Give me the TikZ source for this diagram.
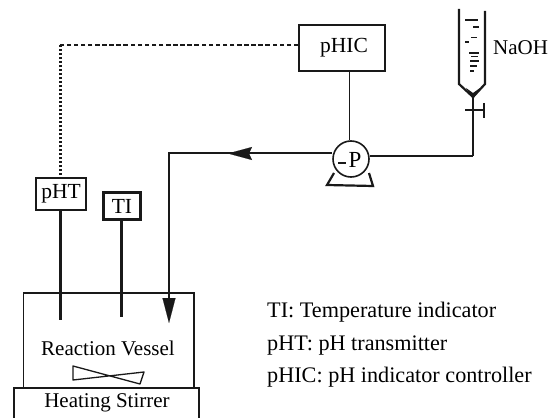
\documentclass[tikz,border=0pt]{standalone}
\usepackage{fontspec}
\setmainfont{Liberation Serif}
\usetikzlibrary{arrows.meta}
\tikzset{
  ink/.style={draw=black!90},
  boxnode/.style={ink,line width=1.4pt,inner sep=0pt,minimum width=#1,anchor=center},
  flow/.style={ink,line width=1.4pt},
  probe/.style={ink,line width=2.8pt},
  legend/.style={anchor=base west,inner sep=0pt,font=\fontsize{22.2}{24}\selectfont},
  lab/.style={inner sep=0pt,font=\fontsize{21.5}{24}\selectfont},
  midlab/.style={inner sep=0pt,font=\fontsize{21}{24}\selectfont}
}
\begin{document}
\begin{tikzpicture}[x=1pt,y=-1pt]
\useasboundingbox[fill=white] (0,0) rectangle (556,417);
% instruments
\node[boxnode=86pt,minimum height=46pt,lab] (phic) at (342,48) {\raisebox{-2pt}{\hspace*{4pt}pHIC}};
\node[boxnode=50pt,minimum height=32pt,lab] (pht) at (61,194) {pHT};
\node[boxnode=37pt,minimum height=27pt,lab,line width=3pt] (ti) at (122,206) {TI};
\node[ink,circle,line width=1.6pt,minimum size=36pt,inner sep=0pt] (pump) at (351,159) {};
\node[midlab,font=\fontsize{23}{24}\selectfont] (plab) at (355,160) {P};
\node[midlab,anchor=west] (naoh) at (493,48) {NaOH};
% vessel
\node[ink,line width=1.3pt,minimum width=170.5pt,minimum height=95pt,inner sep=0pt] (vessel) at (108.75,340.5) {};
\node[midlab] (rv) at (108,348) {Reaction Vessel};
\node[midlab] (hs) at (107,403) {Heating Stirrer};
\coordinate (hsa) at (14,420);
\coordinate (hsb) at (14,388);
\coordinate (hsc) at (199,388);
\coordinate (hsd) at (199,420);
\draw[ink,line width=1.4pt] (hsa) -- (hsb) -- (hsc) -- (hsd);
% impeller
\draw[ink,line width=1.3pt,line join=round] (73,366) -- (140,384) -- (144,372) -- (73,380) -- cycle;
% signal lines
\coordinate (corner) at (60,45);
\draw[ink,line width=1.7pt,dash pattern=on 4.5pt off 2.6pt] (phic.west |- corner) -- (corner);
\draw[ink,line width=3pt,dash pattern=on 2.4pt off 1.6pt] (corner) -- (pht.north -| corner);
\coordinate (sigx) at (349.5,100);
\draw[ink,line width=1.2pt] (phic.south -| sigx) -- (pump.north -| sigx);
% probes
\coordinate (phtend) at (60.5,320);
\coordinate (tiend) at (121.5,317);
\draw[probe] (pht.south -| phtend) -- (phtend);
\draw[probe] (ti.south -| tiend) -- (tiend);
% flow
\coordinate (cornerb) at (473,156);
\coordinate (burtip) at (473,97);
\coordinate (cornerc) at (169,153);
\coordinate (vend) at (169,323);
\coordinate (arrC) at (169,298);
\coordinate (arrA) at (252,153.5);
\coordinate (arrB) at (228,153.5);
\draw[flow] (pump.east |- cornerb) -- (cornerb);
\draw[ink,line width=2.4pt] (cornerb) -- (burtip);
\draw[flow] (pump.west |- cornerc) -- (cornerc) -- (arrC);
\draw[ink,line width=0.1pt,-{Stealth[length=24pt,width=13pt,inset=3pt]}] (arrA) -- (arrB);
\draw[ink,line width=0.1pt,-{Triangle[length=25pt,width=13pt]}] (arrC) -- (vend);
% pump detail
\coordinate (pt) at (338,163);
\coordinate (pu) at (346,163);
\draw[ink,line width=2pt] (pt) -- (pu);
\coordinate (f1) at (334,173);
\coordinate (f2) at (327,185);
\coordinate (f3) at (373,186);
\coordinate (f4) at (369,173);
\draw[ink,line width=2.2pt,line join=miter] (f1) -- (f2) -- (f3) -- (f4);
% burette
\coordinate (bl) at (459,9);
\coordinate (br) at (485,11);
\coordinate (bla) at (459,84);
\coordinate (bra) at (485,84);
\draw[ink,line width=2.2pt] (bl) -- (bla) -- (burtip) -- (bra) -- (br);
\fill[black!90] (466,88) -- (473,99) -- (480,88) -- (473,93) -- cycle;
\coordinate (s1) at (465,110);
\coordinate (s2) at (484,110);
\coordinate (s3) at (484,103);
\coordinate (s4) at (484,118);
\draw[ink,line width=1.2pt] (s1) -- (s2);
\draw[ink,line width=1.2pt] (s3) -- (s4);
\foreach \xa/\xb/\yy/\w in {465/478/20/1.3, 473/479/27/1.3, 465/469/42/1.1, 471/477/38/1, 469/479/53/1.3, 471/478/57/1, 470/479/61/1.3, 470/477/66/1.2, 470/474/71/1.5}{
  \draw[ink,line width=\w pt] (\xa,\yy) -- (\xb,\yy);
}
% legend
\node[legend] (l1) at (267,317) {TI: Temperature indicator};
\node[legend] (l2) at (267,350) {pHT: pH transmitter};
\node[legend] (l3) at (267,382) {pHIC: pH indicator controller};
\end{tikzpicture}
\end{document}
